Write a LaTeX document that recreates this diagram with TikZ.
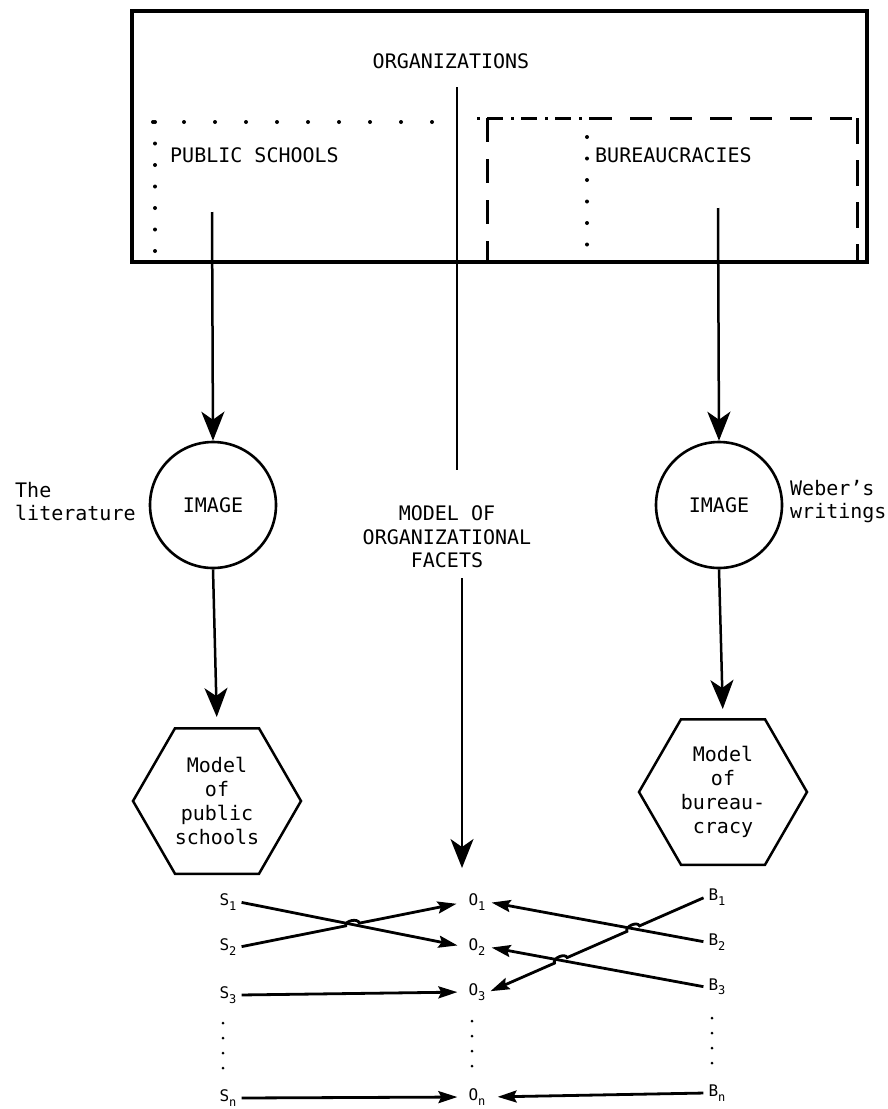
\documentclass[tikz,border=0pt]{standalone}
\usepackage{fontspec}
\setmainfont{DejaVu Sans Mono}
\usetikzlibrary{arrows.meta,shapes.geometric,calc}

% letter with a lowered index, as used for the facet labels
\newcommand{\facet}[2]{#1\raisebox{-0.5ex}{\fontsize{12}{12}\selectfont #2}}

\begin{document}
\begin{tikzpicture}[x=1pt,y=-1pt,
  txt/.style={font=\fontsize{20}{24}\selectfont, inner sep=0pt},
  imagenode/.style={circle, draw, line width=2.6pt, minimum size=126pt, inner sep=0pt,
    font=\fontsize{20}{24}\selectfont},
  hexa/.style={regular polygon, regular polygon sides=6, draw, line width=2.5pt,
    minimum size=168pt, inner sep=0pt, align=center, font=\fontsize{20}{24}\selectfont},
  colarrow/.style={line width=2.5pt, -{Stealth[length=29pt,width=23pt,inset=8pt]}},
  midline/.style={line width=1.6pt},
  lab/.style={font=\fontsize{16}{16}\selectfont, inner sep=3pt},
  link/.style={line width=2.8pt, -{Stealth[length=19pt,width=12pt,inset=3pt]}, shorten <=2pt},
  dotrow/.style={line width=4pt, line cap=round, dash pattern=on 0pt off 31pt},
  dotcol/.style={line width=4pt, line cap=round, dash pattern=on 0pt off 21.5pt},
  smalldots/.style={line width=3pt, line cap=round, dash pattern=on 0pt off 15pt},
]
\useasboundingbox (0,0) rectangle (887,1109);

% ---- the outer frame: organizations ----
\node[draw, line width=3.5pt, minimum width=735pt, minimum height=251pt, inner sep=0pt]
  (orgbox) at (499.5,136.5) {};
\node[txt] (orgtitle) at (451,61) {ORGANIZATIONS};

% public schools region (dotted)
\draw[dotrow] (153,122) -- (442,122);
\draw[dotcol] (155,122) -- (155,257);
\node[txt, anchor=west] (pubs) at (170,155) {PUBLIC SCHOOLS};

% bureaucracies region (dash-dotted / dashed)
\draw[line width=3pt, dash pattern=on 3pt off 7pt on 16pt off 8pt] (477,118) -- (590,118);
\draw[line width=3pt, dash pattern=on 22pt off 18pt] (590,118) -- (857,118);
\draw[line width=3pt, dash pattern=on 24pt off 17pt] (487,118) -- (487,262);
\draw[line width=3pt, dash pattern=on 26pt off 16pt] (857,118) -- (857,262);
\draw[dotcol] (587,137) -- (587,250);
\node[txt, anchor=west] (bur) at (595,155) {BUREAUCRACIES};

% starting points of the three vertical connectors
\coordinate (psrc) at (212,212);
\coordinate (bsrc) at (718,208);
\coordinate (osrc) at (457,87);
\coordinate (otip) at (462,868);

% ---- images ----
\node[imagenode] (imgL) at (213,505) {IMAGE};
\node[imagenode] (imgR) at (719,505) {IMAGE};
\node[txt, anchor=west, align=left, font=\fontsize{20}{23}\selectfont] (lit) at (15,502) {The\\literature};
\node[txt, anchor=west, align=left, font=\fontsize{20}{23}\selectfont] (web) at (790,502) {Weber's\\writings};

\node[txt, align=center, font=\fontsize{20}{23.5}\selectfont] (facets) at (447,537)
  {MODEL OF\\ORGANIZATIONAL\\FACETS};

% ---- models ----
\node[hexa] (hexL) at (217,801) {Model\\of\\public\\schools};
\node[hexa] (hexR) at (723,792) {Model\\of\\bureau-\\cracy};

% ---- vertical connectors ----
\draw[colarrow] (psrc) -- (imgL.north);
\draw[colarrow] (bsrc) -- (imgR.north);
\draw[colarrow, shorten >=10pt] (imgL.south) -- (hexL.north);
\draw[colarrow, shorten >=9pt] (imgR.south) -- (hexR.north);
\draw[midline] (osrc) -- ($(osrc |- facets.north)+(0,-36)$);
\draw[midline, -{Stealth[length=29pt,width=23pt,inset=8pt]}]
  ($(otip |- facets.south)+(0,10)$) -- (otip);

% ---- facet labels ----
\node[lab] (S1) at (228,902) {\facet{S}{1}};
\node[lab] (S2) at (228,947) {\facet{S}{2}};
\node[lab] (S3) at (228,995) {\facet{S}{3}};
\node[lab] (Sn) at (228,1098) {\facet{S}{n}};

\node[lab] (O1) at (477,902) {\facet{O}{1}};
\node[lab] (O2) at (477,947) {\facet{O}{2}};
\node[lab] (O3) at (477,992) {\facet{O}{3}};
\node[lab] (On) at (477,1097) {\facet{O}{n}};

\node[lab] (B1) at (717,897) {\facet{B}{1}};
\node[lab] (B2) at (717,942) {\facet{B}{2}};
\node[lab] (B3) at (717,987) {\facet{B}{3}};
\node[lab] (Bn) at (717,1093) {\facet{B}{n}};

\draw[smalldots] (223,1023) -- (223,1068);
\draw[smalldots] (472,1021) -- (472,1067);
\draw[smalldots] (712,1018) -- (712,1065);

% ---- links between facets ----
\draw[link, shorten >=8pt] (S1.east) -- (O2.west);
\draw[link, shorten >=9pt] (S2.east) -- ($(S2.east)!0.47!(O1.west)$)
  to[bend left=90] ($(S2.east)!0.53!(O1.west)$) -- (O1.west);
\draw[link, shorten >=8pt] (S3.east) -- (O3.west);
\draw[link, shorten >=8pt] (Sn.east) -- (On.west);

\draw[link, shorten >=3pt] (B2.west) -- (O1.east);
\draw[link, shorten >=3pt] (B3.west) -- (O2.east);
\draw[link, shorten >=2pt] (B1.west) -- ($(B1.west)!0.304!(O3.east)$)
  to[bend right=90] ($(B1.west)!0.362!(O3.east)$)
  -- ($(B1.west)!0.638!(O3.east)$)
  to[bend right=90] ($(B1.west)!0.696!(O3.east)$) -- (O3.east);
\draw[link, shorten >=9pt] (Bn.west) -- (On.east);
\end{tikzpicture}
\end{document}
